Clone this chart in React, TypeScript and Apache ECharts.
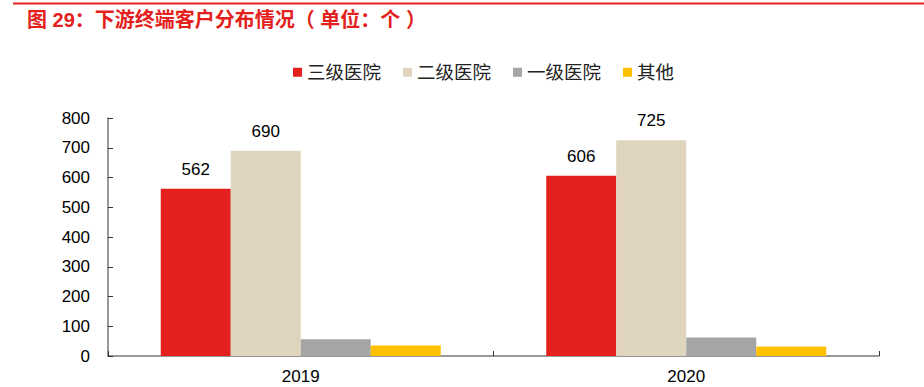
import React, { useEffect, useRef } from "react";
import * as echarts from "echarts";

const categories = ["2019", "2020"];
const seriesNames = ["三级医院", "二级医院", "一级医院", "其他"];
const tier3 = [562, 606];
const tier2 = [690, 725];
const tier1 = [56, 62];
const others = [35, 32];
const yTicks = [0, 100, 200, 300, 400, 500, 600, 700, 800];
const colors = ["#E3201B", "#DFD5BE", "#A5A5A5", "#FFC000"];

export default function App() {
  const ref = useRef<HTMLDivElement>(null);
  useEffect(() => {
    document.body.style.margin = "0";
    if (!ref.current) return;
    const chart = echarts.init(ref.current, null, { renderer: "svg" });
    const font = "Arial, 'Liberation Sans', 'Noto Sans CJK SC', sans-serif";
    const data = [tier3, tier2, tier1, others];
    chart.setOption({
      animation: false,
      textStyle: { fontFamily: font },
      title: {
        text: "图 29：下游终端客户分布情况（ 单位：个 ）",
        left: 22,
        top: 5,
        textStyle: { fontSize: 20, fontWeight: "bold", color: "#E3201B", fontFamily: font },
      },
      graphic: [
        {
          type: "line",
          shape: { x1: 13, y1: 3.5, x2: 924, y2: 3.5 },
          style: { stroke: "#E3201B", lineWidth: 2 },
        },
      ],
      legend: {
        data: seriesNames,
        left: 288,
        top: 58,
        icon: "rect",
        itemWidth: 9,
        itemHeight: 9,
        itemGap: 22,
        textStyle: { fontSize: 18.5, color: "#222", fontFamily: font },
      },
      grid: { left: 108, right: 45, top: 118, bottom: 31, containLabel: false },
      xAxis: {
        type: "category",
        data: categories,
        axisLine: { lineStyle: { color: "#777", width: 1.5 } },
        axisTick: { show: true, inside: true, length: 5, lineStyle: { color: "#333" } },
        axisLabel: { fontSize: 17, color: "#000", margin: 12 },
      },
      yAxis: {
        type: "value",
        min: yTicks[0],
        max: yTicks[yTicks.length - 1],
        interval: 100,
        splitLine: { show: false },
        axisLine: { show: true, lineStyle: { color: "#777", width: 1.5 } },
        axisTick: { show: true, inside: true, length: 5, lineStyle: { color: "#333" } },
        axisLabel: { fontSize: 17, color: "#000", margin: 18 },
      },
      series: seriesNames.map((name, i) => ({
        name,
        type: "bar",
        data: data[i],
        barWidth: 70,
        barGap: "0%",
        itemStyle: { color: colors[i] },
        label: {
          show: i < 2,
          position: "top",
          distance: 11,
          fontSize: 17,
          color: "#000",
          fontFamily: font,
        },
      })),
    });
    return () => chart.dispose();
  }, []);
  return <div ref={ref} style={{ width: 924, height: 387 }} />;
}
